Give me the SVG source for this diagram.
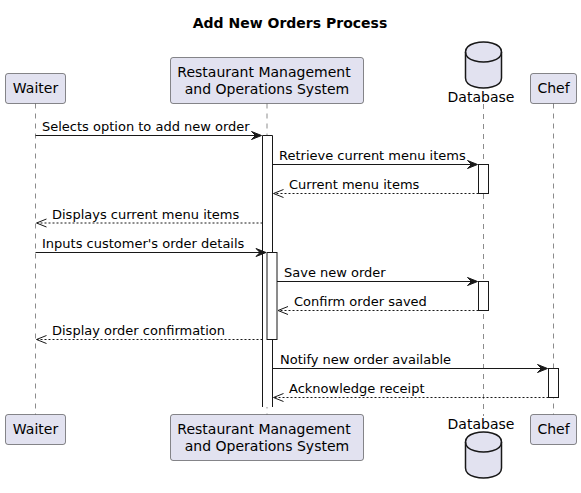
<svg xmlns="http://www.w3.org/2000/svg" width="581" height="493" viewBox="0 0 581 493">
<style>
text{font-family:"DejaVu Sans","Liberation Sans",sans-serif;fill:#000}
.title{font-size:14px;font-weight:bold}
.p{font-size:14px}
.m{font-size:13px}
.box{fill:#E2E2F0;stroke:#181818;stroke-width:0.5}
.life{stroke:#181818;stroke-width:0.5;stroke-dasharray:5,5;fill:none}
.act{fill:#FFFFFF;stroke:#181818;stroke-width:1}
.sync{stroke:#181818;stroke-width:1;fill:none}
.ret{stroke:#181818;stroke-width:1;fill:none;stroke-dasharray:2,2}
.head{fill:#181818;stroke:#181818;stroke-width:1}
.db{fill:#E2E2F0;stroke:#181818;stroke-width:1.5}
</style>
<rect width="581" height="493" fill="#FFFFFF"/>
<text class="title" x="290" y="28" text-anchor="middle">Add New Orders Process</text>

<g id="lifelines">
<line class="life" x1="35.5" y1="103.5" x2="35.5" y2="414.5"/>
<line class="life" x1="267" y1="103.5" x2="267" y2="414.5"/>
<line class="life" x1="483.5" y1="104" x2="483.5" y2="416"/>
<line class="life" x1="553.5" y1="103.5" x2="553.5" y2="414.5"/>
</g>

<g id="waiter">
<rect class="box" x="5.5" y="73.5" width="60" height="30" rx="2.5"/>
<text class="p" x="35.5" y="93" text-anchor="middle">Waiter</text>
<rect class="box" x="5.5" y="414.5" width="60" height="30" rx="2.5"/>
<text class="p" x="35.5" y="434" text-anchor="middle">Waiter</text>
</g>

<g id="rmos">
<rect class="box" x="170.5" y="57.5" width="193" height="46" rx="2.5"/>
<text class="p" x="264" y="77" text-anchor="middle">Restaurant Management</text>
<text class="p" x="267" y="93.5" text-anchor="middle">and Operations System</text>
<rect class="box" x="170.5" y="414.5" width="193" height="46" rx="2.5"/>
<text class="p" x="264" y="434" text-anchor="middle">Restaurant Management</text>
<text class="p" x="267" y="450.5" text-anchor="middle">and Operations System</text>
</g>

<g id="database">
<path class="db" d="M465.5,52 C465.5,42 483.5,42 483.5,42 C483.5,42 501.5,42 501.5,52 L501.5,78 C501.5,88 483.5,88 483.5,88 C483.5,88 465.5,88 465.5,78 Z"/>
<path class="db" fill="none" d="M465.5,52 C465.5,62 483.5,62 483.5,62 C483.5,62 501.5,62 501.5,52" style="fill:none"/>
<text class="p" x="481" y="101.5" text-anchor="middle">Database</text>
<text class="p" x="481" y="428.5" text-anchor="middle">Database</text>
<path class="db" d="M465.5,442 C465.5,432 483.5,432 483.5,432 C483.5,432 501.5,432 501.5,442 L501.5,468 C501.5,478 483.5,478 483.5,478 C483.5,478 465.5,478 465.5,468 Z"/>
<path class="db" d="M465.5,442 C465.5,452 483.5,452 483.5,452 C483.5,452 501.5,452 501.5,442" style="fill:none"/>
</g>

<g id="chef">
<rect class="box" x="530.5" y="73.5" width="46" height="30" rx="2.5"/>
<text class="p" x="553.5" y="93" text-anchor="middle">Chef</text>
<rect class="box" x="530.5" y="414.5" width="46" height="30" rx="2.5"/>
<text class="p" x="553.5" y="434" text-anchor="middle">Chef</text>
</g>

<g id="activations">
<path class="act" d="M262.5,407 V135.5 H272.5 V407"/>
<rect class="act" x="267" y="252.5" width="10" height="87"/>
<rect class="act" x="478.5" y="164.5" width="10" height="29"/>
<rect class="act" x="478.5" y="281.5" width="10" height="29"/>
<rect class="act" x="548.5" y="368.5" width="10" height="29"/>
</g>

<g id="connectors">
<line class="sync" x1="35.5" y1="135.5" x2="261" y2="135.5"/>
<polygon class="head" points="251.5,131.5 261.5,135.5 251.5,139.5 255.5,135.5"/>
<text class="m" x="42" y="131">Selects option to add new order</text>

<line class="sync" x1="272.5" y1="164.5" x2="477" y2="164.5"/>
<polygon class="head" points="467.5,160.5 477.5,164.5 467.5,168.5 471.5,164.5"/>
<text class="m" x="279" y="160">Retrieve current menu items</text>

<line class="ret" x1="478.5" y1="193.5" x2="274" y2="193.5"/>
<polyline class="sync" points="283.5,189.5 273.5,193.5 283.5,197.5"/>
<text class="m" x="289" y="189">Current menu items</text>

<line class="ret" x1="262.5" y1="223" x2="37" y2="223"/>
<polyline class="sync" points="46.5,219 36.5,223 46.5,227"/>
<text class="m" x="52" y="218.5">Displays current menu items</text>

<line class="sync" x1="35.5" y1="252.5" x2="265.5" y2="252.5"/>
<polygon class="head" points="256,248.5 266,252.5 256,256.5 260,252.5"/>
<text class="m" x="42" y="248">Inputs customer's order details</text>

<line class="sync" x1="277" y1="281.5" x2="477" y2="281.5"/>
<polygon class="head" points="467.5,277.5 477.5,281.5 467.5,285.5 471.5,281.5"/>
<text class="m" x="284" y="277">Save new order</text>

<line class="ret" x1="478.5" y1="310.5" x2="279" y2="310.5"/>
<polyline class="sync" points="288,306.5 278,310.5 288,314.5"/>
<text class="m" x="294" y="306">Confirm order saved</text>

<line class="ret" x1="262.5" y1="339.5" x2="37" y2="339.5"/>
<polyline class="sync" points="46.5,335.5 36.5,339.5 46.5,343.5"/>
<text class="m" x="52" y="335">Display order confirmation</text>

<line class="sync" x1="272.5" y1="368.5" x2="547" y2="368.5"/>
<polygon class="head" points="537.5,364.5 547.5,368.5 537.5,372.5 541.5,368.5"/>
<text class="m" x="280" y="364">Notify new order available</text>

<line class="ret" x1="548.5" y1="397.5" x2="274" y2="397.5"/>
<polyline class="sync" points="283.5,393.5 273.5,397.5 283.5,401.5"/>
<text class="m" x="289" y="393">Acknowledge receipt</text>
</g>
</svg>
